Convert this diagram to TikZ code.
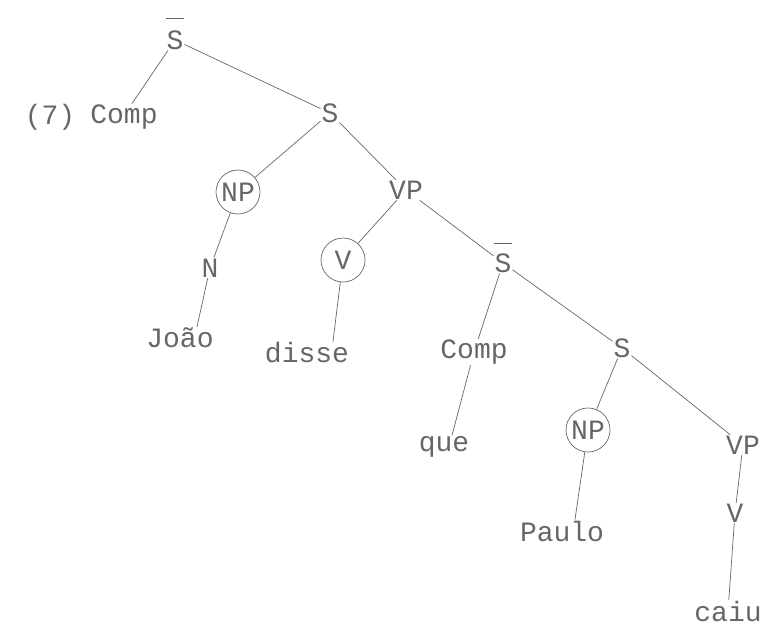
\documentclass[tikz,border=0pt]{standalone}
\usepackage{fontspec}
\setmonofont{Liberation Mono}
\begin{document}
\begin{tikzpicture}[x=1pt, y=-1pt,
  lbl/.style={font=\ttfamily\fontsize{28}{30}\selectfont, text=black!60, inner sep=1pt},
  ringed/.style={lbl, circle, draw=black!60, line width=0.7pt, minimum size=44pt, inner sep=0pt},
  branch/.style={draw=black!60, line width=0.7pt, line cap=round},
  barmark/.style={draw=black!60, line width=1.2pt}]
% page frame, in pixels of the scan
\useasboundingbox (0,0) rectangle (765,627);
% labels
\node[lbl] (ex)    at (50,117)  {(7)};
\node[lbl] (sbar1) at (175,40)  {S};
\node[lbl] (comp1) at (124,117) {Comp};
\node[lbl] (s1)    at (330,113) {S};
\node[ringed] (np1) at (238,192) {NP};
\node[lbl] (vp1)   at (406,190) {VP};
\node[lbl] (n1)    at (210,268) {N};
\node[lbl] (joao)  at (180,338) {João};
\node[ringed] (v1) at (343,260) {V};
\node[lbl] (disse) at (307,353) {disse};
\node[lbl] (sbar2) at (503,263) {S};
\node[lbl] (comp2) at (474,352) {Comp};
\node[lbl] (que)   at (444,447) {que};
\node[lbl] (s2)    at (622,348) {S};
\node[ringed] (np2) at (588,430) {NP};
\node[lbl] (paulo) at (562,531) {Paulo};
\node[lbl] (vp2)   at (743,445) {VP};
\node[lbl] (v2)    at (735,513) {V};
\node[lbl] (caiu)  at (728,611) {caiu};
% bars over S
\draw[barmark] ([xshift=-9pt,yshift=11pt]sbar1.north) -- ([xshift=9pt,yshift=11pt]sbar1.north);
\draw[barmark] ([xshift=-9pt,yshift=9pt]sbar2.north) -- ([xshift=9pt,yshift=9pt]sbar2.north);
% branches
\draw[branch] (sbar1) -- ([xshift=8pt]comp1.north);
\draw[branch] (sbar1) -- (s1);
\draw[branch] (s1) -- (np1);
\draw[branch] (s1) -- (vp1);
\draw[branch] (np1) -- (n1);
\draw[branch] (n1) -- ([xshift=17pt]joao.north);
\draw[branch] (vp1) -- (v1);
\draw[branch] (vp1) -- (sbar2);
\draw[branch] (v1) -- ([xshift=26pt]disse.north);
\draw[branch] (sbar2) -- (comp2);
\draw[branch] (sbar2) -- (s2);
\draw[branch] (comp2) -- ([xshift=8pt]que.north);
\draw[branch] (s2) -- (np2);
\draw[branch] (s2) -- (vp2);
\draw[branch] (np2) -- ([xshift=13pt]paulo.north);
\draw[branch] (vp2) -- (v2);
\draw[branch] (v2) -- (caiu);
\end{tikzpicture}
\end{document}
